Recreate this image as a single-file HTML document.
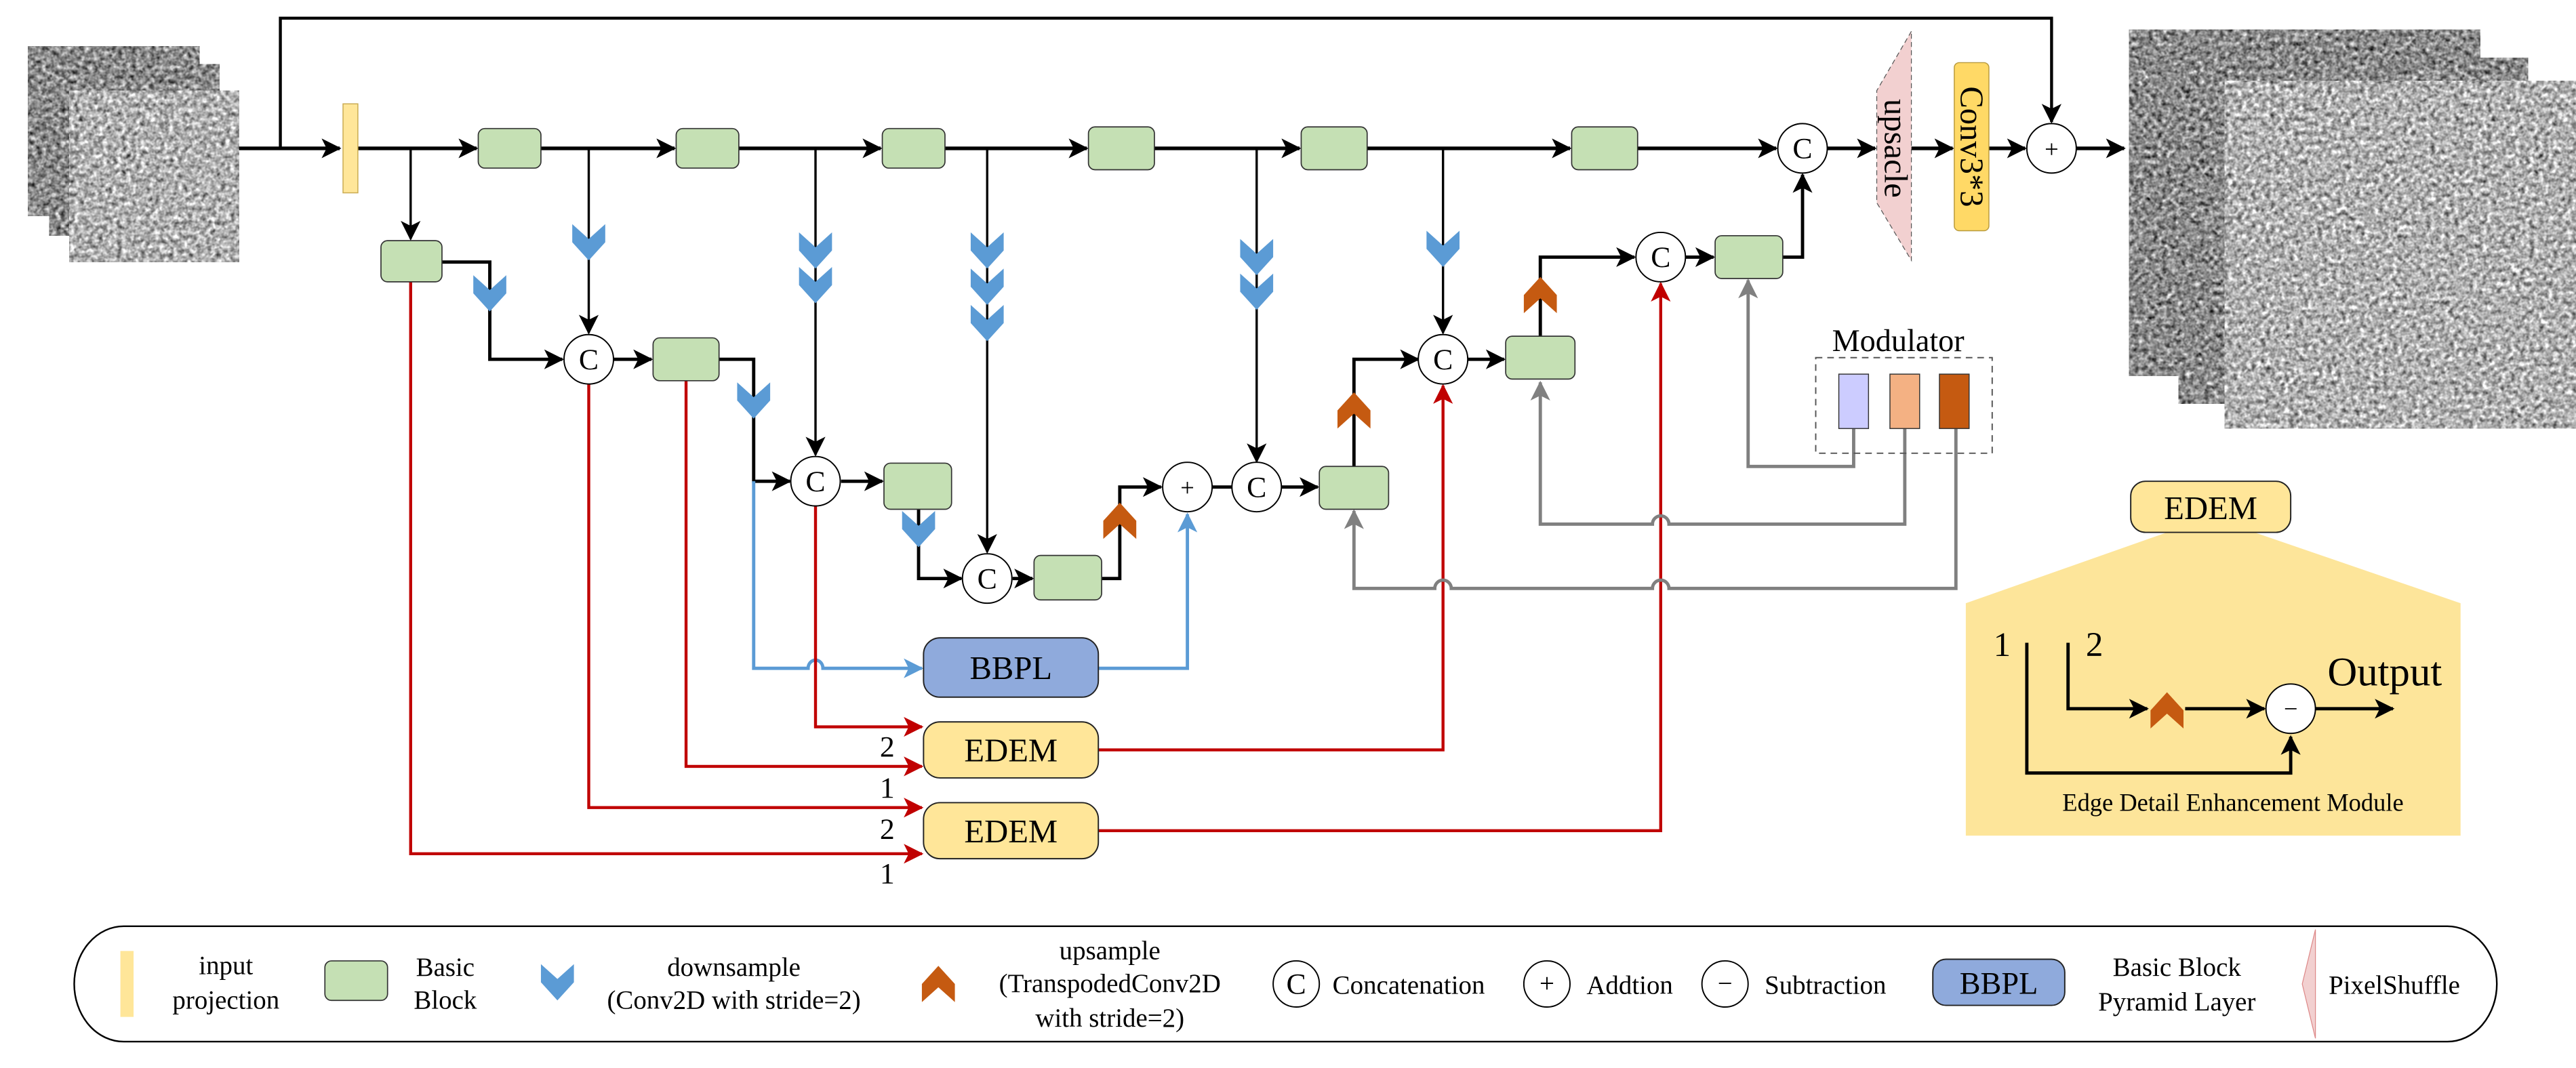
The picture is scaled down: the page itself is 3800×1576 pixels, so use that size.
<!DOCTYPE html>
<html><head><meta charset="utf-8"><style>
html,body{margin:0;padding:0;background:#fff;}
svg{display:block;}
svg text{font-family:'Liberation Serif','DejaVu Serif','Times New Roman',serif;}
</style></head><body>
<svg width="3800" height="1576" viewBox="0 0 1562 648" preserveAspectRatio="none" xmlns="http://www.w3.org/2000/svg" font-family="'Liberation Serif','DejaVu Serif',serif">
<defs>
<marker id="ak" markerUnits="userSpaceOnUse" markerWidth="14" markerHeight="14" refX="11" refY="6" orient="auto"><path d="M0,0 L12,6 L0,12 L3,6 Z" fill="#000"/></marker>
<marker id="ar" markerUnits="userSpaceOnUse" markerWidth="14" markerHeight="14" refX="11" refY="6" orient="auto"><path d="M0,0 L12,6 L0,12 L3,6 Z" fill="#c00000"/></marker>
<marker id="ag" markerUnits="userSpaceOnUse" markerWidth="14" markerHeight="14" refX="11" refY="6" orient="auto"><path d="M0,0 L12,6 L0,12 L3,6 Z" fill="#808080"/></marker>
<marker id="ab" markerUnits="userSpaceOnUse" markerWidth="14" markerHeight="14" refX="11" refY="6" orient="auto"><path d="M0,0 L12,6 L0,12 L3,6 Z" fill="#5b9bd5"/></marker>
<filter id="nA" x="0" y="0" width="1" height="1" color-interpolation-filters="sRGB">
<feTurbulence type="fractalNoise" baseFrequency="0.35" numOctaves="2" seed="4"/>
<feColorMatrix type="matrix" values="0.33 0.33 0.33 0 0  0.33 0.33 0.33 0 0  0.33 0.33 0.33 0 0  0 0 0 0 1"/>
<feComponentTransfer><feFuncR type="linear" slope="1.8" intercept="-0.35"/><feFuncG type="linear" slope="1.8" intercept="-0.35"/><feFuncB type="linear" slope="1.8" intercept="-0.35"/></feComponentTransfer>
</filter>
<filter id="nB" x="0" y="0" width="1" height="1" color-interpolation-filters="sRGB">
<feTurbulence type="fractalNoise" baseFrequency="0.35" numOctaves="2" seed="9"/>
<feColorMatrix type="matrix" values="0.33 0.33 0.33 0 0  0.33 0.33 0.33 0 0  0.33 0.33 0.33 0 0  0 0 0 0 1"/>
<feComponentTransfer><feFuncR type="linear" slope="1.8" intercept="-0.2"/><feFuncG type="linear" slope="1.8" intercept="-0.2"/><feFuncB type="linear" slope="1.8" intercept="-0.2"/></feComponentTransfer>
</filter>
<g id="dn"><polygon points="-10,-11 0,-2 10,-11 10,0 0,11 -10,0" fill="#5b9bd5"/></g>
<g id="up"><polygon points="-10,11 0,2 10,11 10,0 0,-11 -10,0" fill="#c55a11"/></g>
</defs>

<rect x="17" y="28" width="104" height="103" fill="#999" filter="url(#nA)"/>
<rect x="30" y="39" width="103" height="104" fill="#999" filter="url(#nA)"/>
<rect x="42" y="55" width="103" height="104" fill="#bbb" filter="url(#nB)"/>
<rect x="1291" y="18" width="213" height="210" fill="#999" filter="url(#nA)"/>
<rect x="1321" y="35" width="212" height="210" fill="#999" filter="url(#nA)"/>
<rect x="1349" y="49" width="213" height="211" fill="#bbb" filter="url(#nB)"/>

<polygon points="1314,323 1367,323 1492,366 1492,507 1192,507 1192,366" fill="#fde59a"/>

<g fill="none" stroke="#000" stroke-width="2.2">
<path d="M145,90 H206" marker-end="url(#ak)"/>
<path d="M170,90 V11 H1244 V74" stroke-width="1.8" marker-end="url(#ak)"/>
<path d="M217,90 H289" marker-end="url(#ak)"/>
<path d="M328,90 H409" marker-end="url(#ak)"/>
<path d="M448,90 H534" marker-end="url(#ak)"/>
<path d="M573,90 H659" marker-end="url(#ak)"/>
<path d="M700,90 H788" marker-end="url(#ak)"/>
<path d="M829,90 H952" marker-end="url(#ak)"/>
<path d="M993,90 H1077" marker-end="url(#ak)"/>
<path d="M1108,90 H1137" marker-end="url(#ak)"/>
<path d="M1159,90 H1184" marker-end="url(#ak)"/>
<path d="M1206,90 H1228" marker-end="url(#ak)"/>
<path d="M1259,90 H1288" marker-end="url(#ak)"/>
</g>
<g fill="none" stroke="#000" stroke-width="1.4">
<path d="M249,90 V145" marker-end="url(#ak)"/>
<path d="M357,90 V202" marker-end="url(#ak)"/>
<path d="M494.5,90 V276" marker-end="url(#ak)"/>
<path d="M598.6,90 V335" marker-end="url(#ak)"/>
<path d="M762,90 V280" marker-end="url(#ak)"/>
<path d="M875,90 V202" marker-end="url(#ak)"/>
</g>
<g fill="none" stroke="#000" stroke-width="2">
<path d="M268,159 H297 V218 H341" marker-end="url(#ak)"/>
<path d="M372,218 H395" marker-end="url(#ak)"/>
<path d="M436,218 H457 V292 H479" marker-end="url(#ak)"/>
<path d="M510,292 H535" marker-end="url(#ak)"/>
<path d="M557,309 V351 H583" marker-end="url(#ak)"/>
<path d="M614,351 H626" marker-end="url(#ak)"/>
<path d="M668,351 H679 V295.5 H704" marker-end="url(#ak)"/>
<path d="M735,295.5 H747"/>
<path d="M777,295.5 H799" marker-end="url(#ak)"/>
<path d="M821,283 V218 H860" marker-end="url(#ak)"/>
<path d="M890,218 H912" marker-end="url(#ak)"/>
<path d="M934,204 V156 H991" marker-end="url(#ak)"/>
<path d="M1022,156 H1039" marker-end="url(#ak)"/>
<path d="M1081,156 H1093 V106" marker-end="url(#ak)"/>
</g>

<g fill="none" stroke="#5b9bd5" stroke-width="2">
<path d="M457,292 V405.5 H490 A4.5,5 0 0 1 499,405.5 H559" marker-end="url(#ab)"/>
<path d="M666,405.5 H720 V312" marker-end="url(#ab)"/>
</g>
<g fill="none" stroke="#c00000" stroke-width="1.8">
<path d="M494.5,307 V441 H559" marker-end="url(#ar)"/>
<path d="M416,231 V465 H559" marker-end="url(#ar)"/>
<path d="M357,233 V490 H559" marker-end="url(#ar)"/>
<path d="M249,171 V518 H559" marker-end="url(#ar)"/>
<path d="M666,455 H875 V234" marker-end="url(#ar)"/>
<path d="M666,504 H1007 V172" marker-end="url(#ar)"/>
</g>
<g fill="none" stroke="#808080" stroke-width="2">
<path d="M1124,260 V283 H1060 V170" marker-end="url(#ag)"/>
<path d="M1155,260 V318 H1012 A5,5 0 0 0 1002,318 H934 V232" marker-end="url(#ag)"/>
<path d="M1186,260 V357 H1012 A5,5 0 0 0 1002,357 H880 A5,5 0 0 0 870,357 H821 V310" marker-end="url(#ag)"/>
</g>

<use href="#dn" x="297" y="178"/>
<use href="#dn" x="357" y="147"/>
<use href="#dn" x="457" y="243"/>
<use href="#dn" x="494.5" y="152"/><use href="#dn" x="494.5" y="173"/>
<use href="#dn" x="598.6" y="152"/><use href="#dn" x="598.6" y="174"/><use href="#dn" x="598.6" y="196"/>
<use href="#dn" x="557" y="321"/>
<use href="#dn" x="762" y="156"/><use href="#dn" x="762" y="177"/>
<use href="#dn" x="875" y="151"/>
<use href="#up" x="679" y="316"/>
<use href="#up" x="821" y="249"/>
<use href="#up" x="934" y="179"/>

<rect x="208" y="63" width="9" height="54" fill="#ffe699" stroke="#c9a94f" stroke-width="0.6"/>

<g fill="#c5e0b4" stroke="#333" stroke-width="0.7">
<rect x="290" y="78" width="38" height="24" rx="4"/>
<rect x="410" y="78" width="38" height="24" rx="4"/>
<rect x="535" y="78" width="38" height="24" rx="4"/>
<rect x="660" y="77" width="40" height="26" rx="4"/>
<rect x="789" y="77" width="40" height="26" rx="4"/>
<rect x="953" y="77" width="40" height="26" rx="4"/>
<rect x="231" y="146" width="37" height="25" rx="4"/>
<rect x="396" y="205" width="40" height="26" rx="4"/>
<rect x="536" y="281" width="41" height="28" rx="4"/>
<rect x="627" y="337" width="41" height="27" rx="4"/>
<rect x="800" y="283" width="42" height="26" rx="4"/>
<rect x="913" y="204" width="42" height="26" rx="4"/>
<rect x="1040" y="143" width="41" height="26" rx="4"/>
</g>

<g fill="#fff" stroke="#000" stroke-width="0.8">
<circle cx="357" cy="218" r="15"/><circle cx="494.5" cy="292" r="15"/>
<circle cx="598.6" cy="351" r="15"/><circle cx="720" cy="295.5" r="15"/>
<circle cx="762" cy="295.5" r="15"/><circle cx="875" cy="218" r="15"/>
<circle cx="1007" cy="156" r="15"/><circle cx="1093" cy="90" r="15"/>
<circle cx="1244" cy="90" r="15"/>
</g>
<g font-size="18" text-anchor="middle">
<text x="357" y="224">C</text><text x="494.5" y="298">C</text>
<text x="598.6" y="357">C</text><text x="762" y="301.5">C</text>
<text x="875" y="224">C</text><text x="1007" y="162">C</text>
<text x="1093" y="96">C</text>
<text x="720" y="301" font-size="15">+</text><text x="1244" y="95.5" font-size="15">+</text>
</g>

<polygon points="1159,19 1138,55 1138,123 1159,158" fill="#f2d0d0" stroke="#555" stroke-width="0.5" stroke-dasharray="3,2"/>
<text transform="translate(1143,90) rotate(90)" font-size="20" text-anchor="middle">upsacle</text>
<rect x="1185" y="38" width="21" height="102" rx="3" fill="#ffd966" stroke="#b89a3e" stroke-width="0.6"/>
<text transform="translate(1189,89) rotate(90)" font-size="20" text-anchor="middle">Conv3*3</text>

<text x="1151" y="213" font-size="19" text-anchor="middle">Modulator</text>
<rect x="1101" y="217" width="107" height="58" fill="none" stroke="#555" stroke-width="0.8" stroke-dasharray="4,3"/>
<rect x="1115" y="227" width="18" height="33" fill="#ccccff" stroke="#333" stroke-width="0.6"/>
<rect x="1146" y="227" width="18" height="33" fill="#f4b183" stroke="#333" stroke-width="0.6"/>
<rect x="1176" y="227" width="18" height="33" fill="#c55a11" stroke="#333" stroke-width="0.6"/>

<rect x="560" y="387" width="106" height="36" rx="10" fill="#8faadc" stroke="#222" stroke-width="0.8"/>
<text x="613" y="412" font-size="20" text-anchor="middle">BBPL</text>
<rect x="560" y="438" width="106" height="34" rx="10" fill="#ffe699" stroke="#222" stroke-width="0.8"/>
<text x="613" y="462" font-size="20" text-anchor="middle">EDEM</text>
<rect x="560" y="487" width="106" height="34" rx="10" fill="#ffe699" stroke="#222" stroke-width="0.8"/>
<text x="613" y="511" font-size="20" text-anchor="middle">EDEM</text>
<g font-size="18" text-anchor="middle">
<text x="538" y="459">2</text><text x="538" y="484">1</text>
<text x="538" y="509">2</text><text x="538" y="536">1</text>
</g>

<rect x="1292" y="292" width="97" height="31" rx="9" fill="#ffe699" stroke="#222" stroke-width="0.8"/>
<text x="1340.5" y="315" font-size="20" text-anchor="middle">EDEM</text>
<text x="1214" y="398" font-size="21" text-anchor="middle">1</text>
<text x="1270" y="398" font-size="21" text-anchor="middle">2</text>
<g fill="none" stroke="#000" stroke-width="2">
<path d="M1229,390 V469 H1389 V447" marker-end="url(#ak)"/>
<path d="M1254,390 V430 H1302" marker-end="url(#ak)"/>
<path d="M1325,430 H1373" marker-end="url(#ak)"/>
<path d="M1404,430 H1451" marker-end="url(#ak)"/>
</g>
<use href="#up" x="1314" y="431"/>
<ellipse cx="1389" cy="430" rx="15" ry="15" fill="#fff" stroke="#000" stroke-width="0.8"/>
<text x="1389" y="435" font-size="15" text-anchor="middle">−</text>
<text x="1446" y="416" font-size="25" text-anchor="middle">Output</text>
<text x="1354" y="492" font-size="15" text-anchor="middle">Edge Detail Enhancement Module</text>

<path d="M75,562 H1484 A30,35 0 0 1 1484,632 H75 A30,35 0 0 1 75,562 Z" fill="#fff" stroke="#000" stroke-width="1"/>
<rect x="73" y="577" width="8" height="40" fill="#ffe699"/>
<g font-size="16" text-anchor="middle">
<text x="137" y="591">input</text><text x="137" y="612">projection</text>
<text x="270" y="592">Basic</text><text x="270" y="612">Block</text>
<text x="445" y="592">downsample</text><text x="445" y="612">(Conv2D with stride=2)</text>
<text x="673" y="582">upsample</text><text x="673" y="602">(TranspodedConv2D</text><text x="673" y="623">with stride=2)</text>
<text x="1320" y="592">Basic Block</text><text x="1320" y="613">Pyramid Layer</text>
</g>
<rect x="197" y="583" width="38" height="24" rx="4" fill="#c5e0b4" stroke="#333" stroke-width="0.7"/>
<use href="#dn" x="338" y="596"/>
<use href="#up" x="569" y="597"/>
<g fill="#fff" stroke="#000" stroke-width="0.8">
<circle cx="786" cy="597" r="14"/><circle cx="938" cy="597" r="14"/><circle cx="1046" cy="597" r="14"/>
</g>
<g font-size="16">
<text x="786" y="603" text-anchor="middle" font-size="18">C</text>
<text x="938" y="602" text-anchor="middle">+</text>
<text x="1046" y="602" text-anchor="middle">−</text>
<text x="808" y="603">Concatenation</text>
<text x="962" y="603">Addtion</text>
<text x="1070" y="603">Subtraction</text>
<text x="1412" y="603">PixelShuffle</text>
</g>
<rect x="1172" y="582" width="80" height="28" rx="8" fill="#8faadc" stroke="#222" stroke-width="0.8"/>
<text x="1212" y="603" font-size="19" text-anchor="middle">BBPL</text>
<polygon points="1404,564 1396,597 1404,630" fill="#f2d0d0" stroke="#d88" stroke-width="0.5"/>
</svg>
</body></html>
